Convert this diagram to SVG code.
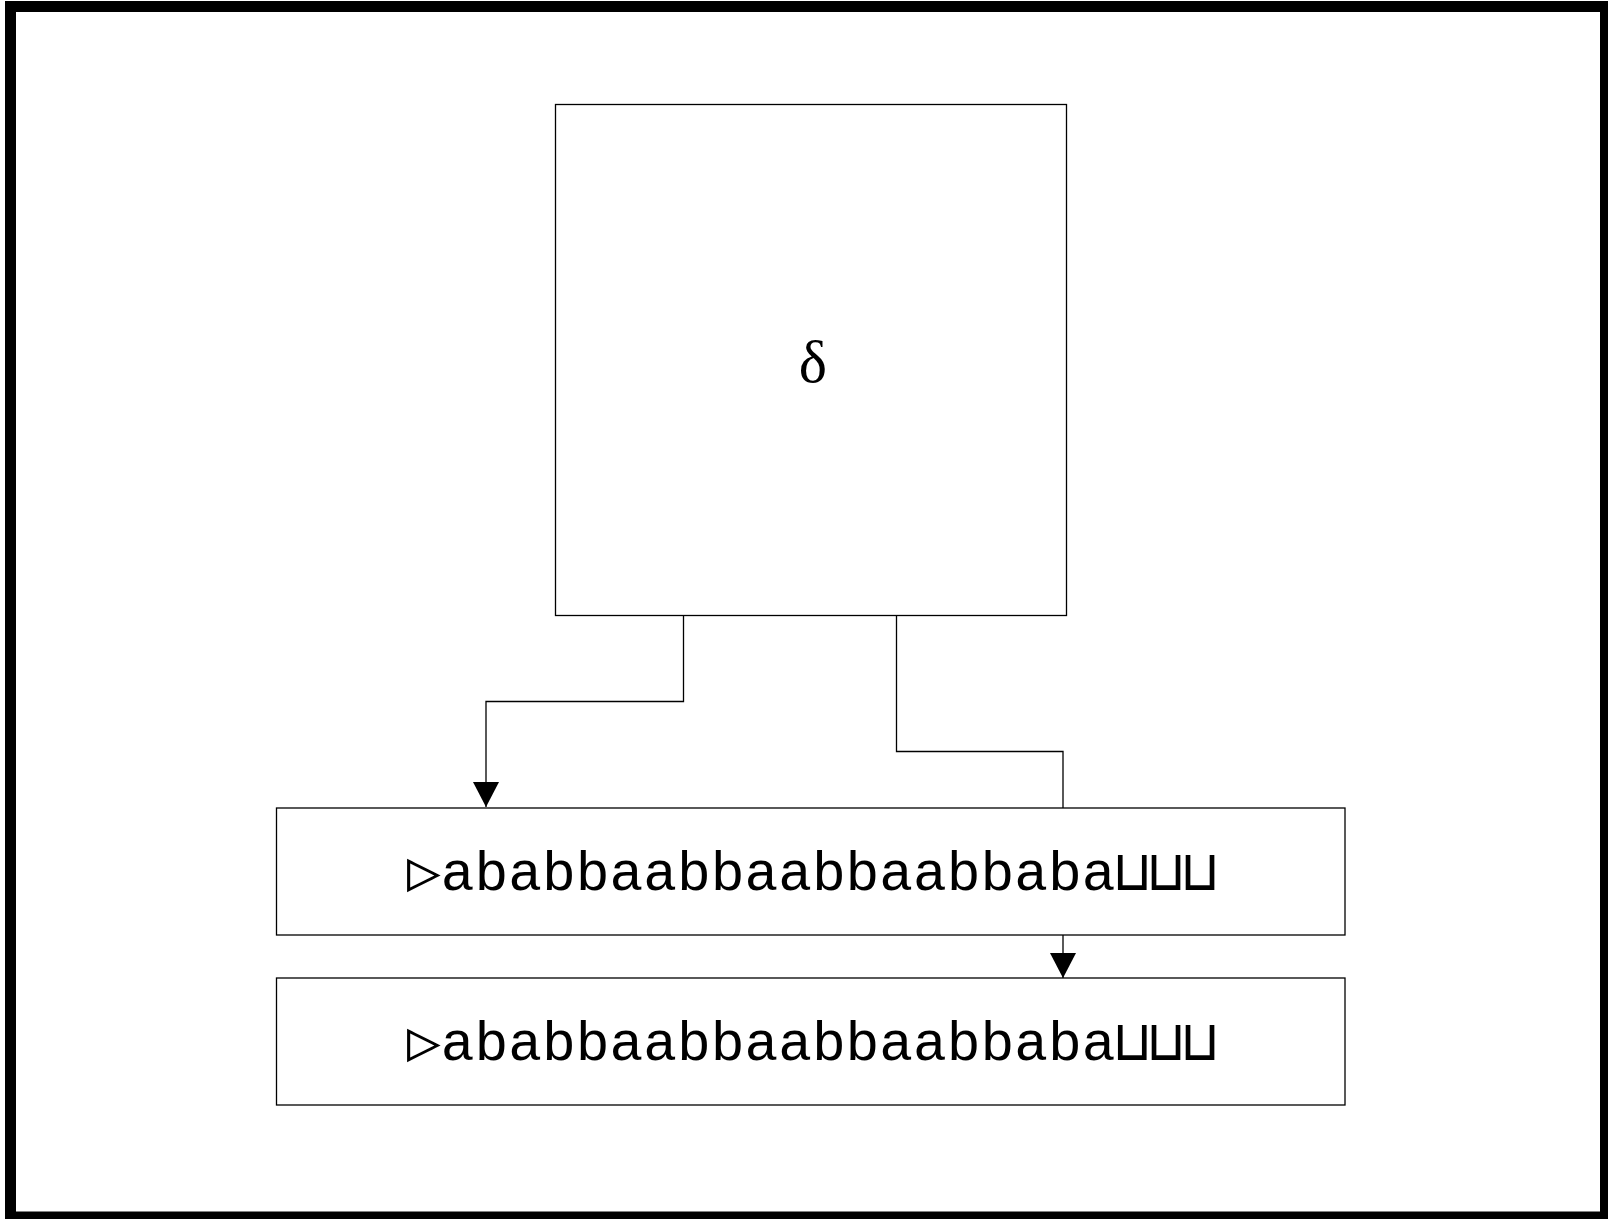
<svg xmlns="http://www.w3.org/2000/svg" width="1608" height="1219" viewBox="0 0 1608 1219">
<defs>
<style>
.box{fill:#fff;stroke:#000;stroke-width:1.3}
.conn{fill:none;stroke:#000;stroke-width:1.3}
.tape{font-family:"Liberation Mono","DejaVu Sans Mono",monospace;font-size:56px;fill:#000}
.delta{font-family:"Liberation Serif",serif;font-size:60px;fill:#000}
</style>
<marker id="arr" markerWidth="25" markerHeight="26" refX="25" refY="13" orient="auto" markerUnits="userSpaceOnUse" viewBox="0 0 25 26">
<path d="M0,0 L25,13 L0,26 Z" fill="#000"/>
</marker>
</defs>
<rect x="0" y="0" width="1608" height="1219" fill="#fff"/>
<rect x="10.5" y="6.5" width="1595" height="1210.5" fill="none" stroke="#000" stroke-width="11"/>
<g id="delta-node">
<rect class="box" x="555.5" y="104.5" width="511" height="511"/>
<text class="delta" x="813" y="382" text-anchor="middle">δ</text>
</g>
<g id="tape1">
<rect class="box" x="276.5" y="808" width="1068.5" height="127"/>
<text class="tape" x="812" y="890" text-anchor="middle" textLength="810" lengthAdjust="spacingAndGlyphs">▷ababbaabbaabbaabbaba⊔⊔⊔</text>
</g>
<g id="tape2">
<rect class="box" x="276.5" y="978" width="1068.5" height="127"/>
<text class="tape" x="812" y="1060" text-anchor="middle" textLength="810" lengthAdjust="spacingAndGlyphs">▷ababbaabbaabbaabbaba⊔⊔⊔</text>
</g>
<g id="connectors">
<polyline class="conn" points="683.5,615.5 683.5,701.5 486,701.5 486,807" marker-end="url(#arr)"/>
<polyline class="conn" points="896.5,615.5 896.5,751.5 1063,751.5 1063,808"/>
<line class="conn" x1="1063" y1="935" x2="1063" y2="978" marker-end="url(#arr)"/>
</g>
</svg>
